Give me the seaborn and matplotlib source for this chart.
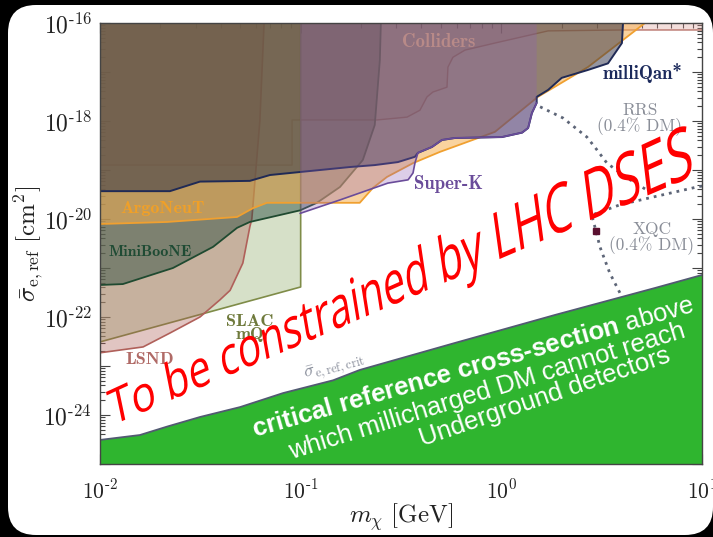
import numpy as np
import matplotlib
matplotlib.use("Agg")
import matplotlib.pyplot as plt
import seaborn as sns
from matplotlib.patches import FancyBboxPatch
from matplotlib.transforms import Affine2D, IdentityTransform
from matplotlib.path import Path
from matplotlib.patheffects import AbstractPathEffect
from matplotlib.ticker import FixedLocator, FixedFormatter, LogLocator, NullFormatter
from matplotlib.mathtext import MathTextParser

# ---------------- data (mass in GeV, reference cross-section in cm^2) ----------------
colliders_m = [0.01, 0.0906, 0.0906, 0.240, 0.339, 0.393, 0.426, 0.456, 0.536, 0.542, 0.574, 0.659, 0.929, 1.71, 3.99, 10.0]
colliders_s = [1.26e-19, 1.26e-19, 1.05e-18, 1.05e-18, 1.2e-18, 1.66e-18, 3.1e-18, 3.9e-18, 4.9e-18, 1.26e-17, 2.0e-17, 2.8e-17, 3.9e-17, 6.9e-17, 7.2e-17, 7.2e-17]

slac_m = [0.01, 0.1, 0.1]
slac_s = [3.1e-23, 4.1e-22, 1e-16]

lsnd_m = [0.01, 0.0164, 0.0223, 0.0315, 0.0396, 0.0445, 0.0515, 0.0558, 0.0571, 0.0626, 0.0657]
lsnd_s = [1.86e-23, 2.45e-23, 4.7e-23, 1.0e-22, 2.24e-22, 3.5e-22, 1.26e-21, 6.9e-21, 1.0e-20, 1.0e-18, 1e-16]

miniboone_m = [0.01, 0.0130, 0.0231, 0.0366, 0.0482, 0.0558, 0.0993, 0.1205, 0.157, 0.204, 0.234, 0.248, 0.251]
miniboone_s = [4.5e-22, 4.7e-22, 1.0e-21, 2.7e-21, 6.6e-21, 8.7e-21, 1.5e-20, 2.14e-20, 4.5e-20, 1.6e-19, 8.3e-19, 1.74e-17, 1e-16]

argoneut_m = [0.01, 0.0216, 0.0482, 0.0578, 0.0679, 0.197, 0.229, 0.269, 0.363, 0.494, 0.929, 1.52, 2.70, 5.20]
argoneut_s = [7.9e-21, 8.7e-21, 1.1e-20, 1.66e-20, 2.14e-20, 2.14e-20, 4.3e-20, 7.2e-20, 1.38e-19, 2.34e-19, 6.0e-19, 3.1e-18, 1.26e-17, 1e-16]

superk_m = [0.0993, 0.157, 0.272, 0.343, 0.363, 0.371, 0.384, 0.451, 0.506, 0.587, 1.007, 1.27, 1.36, 1.42, 1.50]
superk_s = [1.3e-20, 2.45e-20, 5.4e-20, 6.3e-20, 8.7e-20, 1.38e-19, 2.24e-19, 2.95e-19, 4.1e-19, 4.5e-19, 4.7e-19, 5.8e-19, 7.2e-19, 1.45e-18, 2.34e-18]

milliqan_m = [0.01, 0.0223, 0.0315, 0.0558, 0.0703, 0.0993, 0.176, 0.234, 0.305, 0.371, 0.384, 0.451, 0.506, 0.587,
              1.007, 1.27, 1.36, 1.42, 1.50, 1.50, 1.71, 2.00, 2.70, 3.40, 3.99, 4.04]
milliqan_s = [3.7e-20, 3.7e-20, 5.8e-20, 6.0e-20, 7.9e-20, 9.1e-20, 1.15e-19, 1.26e-19, 1.45e-19, 1.86e-19, 2.24e-19, 2.95e-19, 4.1e-19, 4.5e-19,
              4.7e-19, 5.8e-19, 7.2e-19, 1.45e-18, 2.34e-18, 3.1e-18, 4.3e-18, 7.6e-18, 1.1e-17, 1.5e-17, 3.9e-17, 1e-16]

crit_m = [0.01, 0.0158, 0.0216, 0.0315, 0.0499, 0.0817, 0.145, 0.197, 0.587, 1.85, 5.82, 10.0]
crit_s = [3.1e-25, 3.9e-25, 5.8e-25, 9.1e-25, 1.45e-24, 2.8e-24, 5.1e-24, 8.3e-24, 2.95e-23, 1.1e-22, 3.9e-22, 7.2e-22]

rrs_m = [1.56, 2.03, 2.67, 2.99, 3.36, 4.23, 5.31]
rrs_s = [1.95e-18, 1.15e-18, 4.7e-19, 2.6e-19, 1.38e-19, 6.9e-20, 3.9e-20]

xqc_m = [10.0, 9.44, 5.69, 3.90, 2.82, 2.96, 3.10, 3.47, 3.90]
xqc_s = [4.7e-20, 4.5e-20, 2.8e-20, 1.95e-20, 1.2e-20, 5.8e-21, 2.7e-21, 7.9e-22, 3.1e-22]
xqc_point_m = [2.96]
xqc_point_s = [5.8e-21]

x_ticks = [1e-2, 1e-1, 1e0, 1e1]
x_ticklabels = [r"$10^{-2}$", r"$10^{-1}$", r"$10^{0}$", r"$10^{1}$"]
y_ticks = [1e-25, 1e-24, 1e-23, 1e-22, 1e-21, 1e-20, 1e-19, 1e-18, 1e-17, 1e-16]
y_ticklabels = ["", r"$10^{-24}$", "", r"$10^{-22}$", "", r"$10^{-20}$", "", r"$10^{-18}$", "", r"$10^{-16}$"]

XMIN, XMAX, YMIN, YMAX = 1e-2, 1e1, 1e-25, 1e-16

# ---------------- style ----------------
sns.set_theme(style="ticks")
plt.rcParams.update({
    "font.family": ["DejaVu Serif"],
    "mathtext.fontset": "cm",
    "mathtext.rm": "Liberation Sans",
    "mathtext.it": "Liberation Sans:italic",
    "mathtext.bf": "Liberation Sans:bold",
    "axes.unicode_minus": True,
})

# narrow text hyphen in the exponents (as in the LaTeX original), if supported
try:
    MathTextParser("path").parse(r"$10^{\text{-}2}$")
    x_ticklabels = [t.replace("{-", r"{\text{-}") for t in x_ticklabels]
    y_ticklabels = [t.replace("{-", r"{\text{-}") for t in y_ticklabels]
except Exception:
    pass

W, H = 713, 537
fig = plt.figure(figsize=(W / 100, H / 100), dpi=100)
fig.patch.set_facecolor("black")
pxt = Affine2D().scale(1 / 100) + fig.dpi_scale_trans
panel = FancyBboxPatch((8, 2), 705, 530, boxstyle="round,pad=0,rounding_size=28",
                       transform=pxt, facecolor="white", edgecolor="none", zorder=-10)
fig.add_artist(panel)

ax = fig.add_axes([100 / W, 1 - 464 / H, 602 / W, 441 / H])
ax.set_facecolor("white")
ax.set_xscale("log")
ax.set_yscale("log")
ax.set_xlim(XMIN, XMAX)
ax.set_ylim(YMIN, YMAX)


def region(m, s, fc, alpha, ec, lw, z):
    xs = list(m) + [m[-1], m[0]]
    ys = list(s) + [YMAX, YMAX]
    ax.fill(xs, ys, facecolor=fc, alpha=alpha, edgecolor="none", zorder=z)
    sns.lineplot(x=m, y=s, estimator=None, sort=False, color=ec, lw=lw, ax=ax, zorder=z + 0.5, legend=False)


region(colliders_m, colliders_s, "#d9928a", 0.30, "#b8746a", 1.0, 1)
region(slac_m, slac_s, "#a5bb85", 0.45, "#7f8c48", 1.2, 2)
region(lsnd_m, lsnd_s, "#aa5a50", 0.35, "#b0605a", 1.2, 3)
region(miniboone_m, miniboone_s, "#24483a", 0.45, "#1f4a30", 1.3, 4)
region(argoneut_m, argoneut_s, "#f5af50", 0.55, "#f0a030", 1.3, 5)
region(milliqan_m, milliqan_s, "#2c2f45", 0.50, "#202a55", 1.4, 6)
region(superk_m, superk_s, "#8c5fb4", 0.30, "#6a4c9a", 1.2, 7)

# dotted astrophysical / balloon curves
sns.lineplot(x=rrs_m, y=rrs_s, estimator=None, sort=False, color="#5d6577", lw=2.0,
             linestyle=(0, (1, 1.8)), ax=ax, zorder=8, legend=False)
sns.lineplot(x=xqc_m, y=xqc_s, estimator=None, sort=False, color="#5d6577", lw=2.0,
             linestyle=(0, (1, 1.8)), ax=ax, zorder=8, legend=False)
ax.plot(xqc_point_m, xqc_point_s, "s", ms=4, color="#5a1030", zorder=9)

# critical reference cross-section (green)
ax.fill(list(crit_m) + [XMAX, XMIN], list(crit_s) + [YMIN, YMIN], facecolor="#2fb52f",
        edgecolor="none", zorder=10)
sns.lineplot(x=crit_m, y=crit_s, estimator=None, sort=False, color="#525a72", lw=1.3,
             ax=ax, zorder=11, legend=False)

# labels of the regions
lab = dict(ha="center", va="center", zorder=12)
ax.text(0.489, 4.1e-17, "Colliders", family="cmb10", fontsize=13.5, color="#b88a88", **lab)
ax.text(0.0206, 1.66e-20, "ArgoNeuT", family="cmb10", fontsize=13, color="#f0a028", **lab)
ax.text(0.01774, 2.13e-21, "MiniBooNE", family="cmb10", fontsize=11.5, color="#1f4b34", **lab)
ax.text(0.01774, 1.33e-23, "LSND", family="cmb10", fontsize=13, color="#b06a66", **lab)
ax.text(0.0558, 6.0e-23, "SLAC\nmQ", family="cmb10", fontsize=13, color="#6f7a3c",
        linespacing=0.85, **lab)
ax.text(0.548, 5.2e-20, "Super-K", family="cmb10", fontsize=13.5, color="#6a4c9a", **lab)
ax.text(5.08, 9.5e-18, "milliQan*", family="cmb10", fontsize=13.5, color="#1c2a5c", **lab)
ax.text(4.91, 1.1e-18, "RRS\n(0.4% DM)", family="cmr10", fontsize=12.5, color="#8a8e98",
        linespacing=0.95, **lab)
ax.text(5.62, 4.1e-21, "XQC\n(0.4% DM)", family="cmr10", fontsize=12.5, color="#8a8e98",
        linespacing=0.95, **lab)
ax.text(0.148, 9.1e-24, r"$\bar{\sigma}_{\mathrm{e,ref,crit}}$", rotation=15, color="#8a8f9c",
        fontsize=13, **lab)

# axes cosmetics
ax.xaxis.set_major_locator(FixedLocator(x_ticks))
ax.xaxis.set_major_formatter(FixedFormatter(x_ticklabels))
ax.xaxis.set_minor_locator(LogLocator(base=10, subs=np.arange(2, 10), numticks=20))
ax.xaxis.set_minor_formatter(NullFormatter())
ax.yaxis.set_major_locator(FixedLocator(y_ticks))
ax.yaxis.set_major_formatter(FixedFormatter(y_ticklabels))
ax.yaxis.set_minor_locator(LogLocator(base=10, subs=np.arange(2, 10), numticks=20))
ax.yaxis.set_minor_formatter(NullFormatter())
ax.tick_params(which="both", direction="in", top=True, right=True, color="#444444", width=0.8)
ax.tick_params(which="major", length=7)
ax.tick_params(which="minor", length=3.5)
ax.tick_params(axis="x", which="major", labelsize=15.5, pad=11, labelcolor="#222222")
ax.tick_params(axis="y", which="major", labelsize=17, pad=6, labelcolor="#222222")
for sp in ax.spines.values():
    sp.set_color("#444444")
    sp.set_linewidth(1.0)
    sp.set_zorder(20)
ax.set_xlabel(r"$m_\chi\ [\mathrm{GeV}]$", fontsize=18, color="#222222")
ax.set_ylabel(r"$\bar{\sigma}_{\mathrm{e,ref}}\ [\mathrm{cm}^2]$", fontsize=18, color="#222222")
ax.xaxis.set_label_coords(0.5, -0.085)
ax.yaxis.set_label_coords(-0.09, 0.5)


# ---------------- overlay annotations ----------------
class Keystone(AbstractPathEffect):
    """Maps the glyph outlines of a text onto a quadrilateral (display px), so that the
    letters grow from left to right as in the slanted banner of the original."""

    def __init__(self, quad, warp=0.21):
        super().__init__()
        self.quad = np.asarray(quad, float)
        self.warp = warp

    def draw_path(self, renderer, gc, tpath, affine, rgbFace=None):
        v = np.asarray(tpath.vertices, float)
        codes = tpath.codes
        mask = np.ones(len(v), bool) if codes is None else (codes != Path.CLOSEPOLY)
        x0, x1 = v[mask, 0].min(), v[mask, 0].max()
        sel = mask & (v[:, 0] < x0 + 0.03 * (x1 - x0))
        cap = v[sel, 1].max()
        u = (v[:, 0] - x0) / (x1 - x0)
        u = (u - self.warp * u ** 2 * (1 - u))[:, None]
        w = (v[:, 1] / cap)[:, None]
        bl, br, tr, tl = self.quad
        xy = bl * (1 - u) * (1 - w) + br * u * (1 - w) + tr * u * w + tl * (1 - u) * w
        renderer.draw_path(gc, Path(xy, codes), IdentityTransform(), rgbFace)


# quad corners in display pixels (origin bottom-left): BL, BR, TR, TL
quad = [(113, H - 425), (693, H - 176), (687, H - 124), (106, H - 392)]
fig.text(113 / W, 1 - 425 / H, "To be constrained by LHC DSES", rotation=23, rotation_mode="anchor",
         ha="left", va="baseline", fontsize=30, color="#ff0000", family="Open Sans",
         path_effects=[Keystone(quad)], zorder=30)

gkw = dict(ha="center", va="baseline", rotation_mode="anchor", color="white",
           family="Liberation Sans", fontsize=18.5, zorder=31, math_fontfamily="custom")
fig.text(475 / W, 1 - 374 / H, r"critical reference cross-section $\mathrm{above}$",
         rotation=15.9, fontweight="bold", **gkw)
fig.text(489 / W, 1 - 398 / H, "which millicharged DM cannot reach", rotation=17.2, **gkw)
fig.text(547 / W, 1 - 404 / H, "Underground detectors", rotation=18.8, **gkw)

fig.savefig("out.png", dpi=100, facecolor=fig.get_facecolor())
